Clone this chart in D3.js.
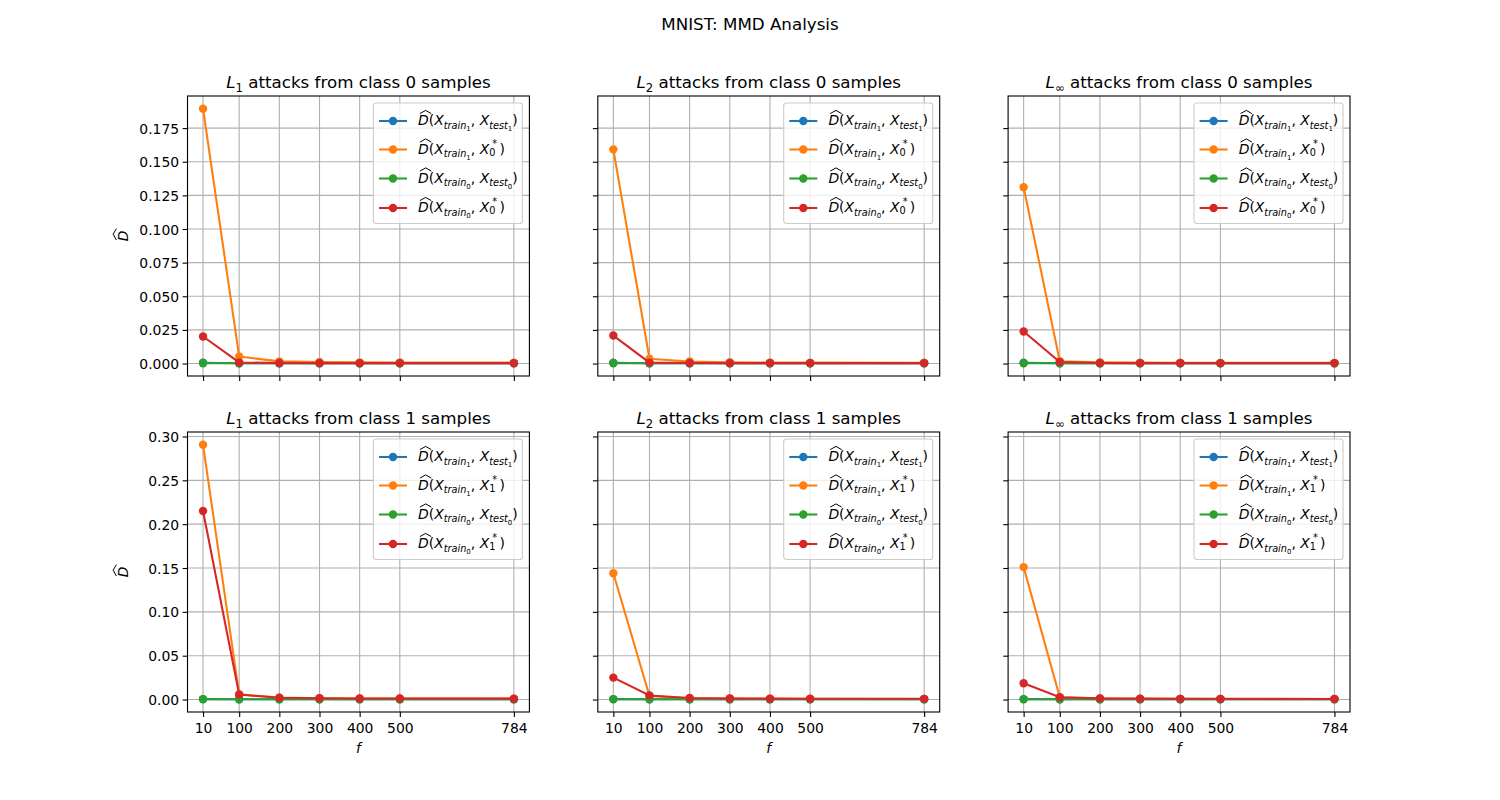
<!DOCTYPE html>
<html>
<head>
<meta charset="utf-8">
<script src="https://cdn.jsdelivr.net/npm/d3@7"></script>
<style>
  body { margin: 0; background: #fff; }
  svg text { font-family: "DejaVu Sans", sans-serif; fill: #000; }
</style>
</head>
<body>
<div id="chart"></div>
<script>
// x values (number of features f) and tick labels
const fValues = [10, 100, 200, 300, 400, 500, 784];
const normNames = ["1", "2", "\u221e"];
const classNames = ["0", "1"];
const seriesColors = ["#1f77b4", "#ff7f0e", "#2ca02c", "#d62728"];

// each panel: [D(train1,test1), D(train1,X*), D(train0,test0), D(train0,X*)]
const l1Class0 = [
    [0.0006, 0.0002, 0.0002, 0.0002, 0.0002, 0.0002, 0.0002],
    [0.1894, 0.0052, 0.0016, 0.0011, 0.0009, 0.0008, 0.0007],
    [0.0002, 0.0002, 0.0002, 0.0002, 0.0002, 0.0002, 0.0002],
    [0.0201, 0.0008, 0.0004, 0.0003, 0.0003, 0.0003, 0.0003]
];
const l2Class0 = [
    [0.0006, 0.0002, 0.0002, 0.0002, 0.0002, 0.0002, 0.0002],
    [0.1592, 0.0036, 0.0015, 0.0010, 0.0008, 0.0007, 0.0006],
    [0.0002, 0.0002, 0.0002, 0.0002, 0.0002, 0.0002, 0.0002],
    [0.0208, 0.0007, 0.0004, 0.0003, 0.0003, 0.0003, 0.0003]
];
const linfClass0 = [
    [0.0006, 0.0002, 0.0002, 0.0002, 0.0002, 0.0002, 0.0002],
    [0.1310, 0.0017, 0.0009, 0.0007, 0.0006, 0.0005, 0.0005],
    [0.0002, 0.0002, 0.0002, 0.0002, 0.0002, 0.0002, 0.0002],
    [0.0238, 0.0012, 0.0004, 0.0003, 0.0003, 0.0003, 0.0003]
];
const l1Class1 = [
    [0.0005, 0.0003, 0.0003, 0.0003, 0.0003, 0.0003, 0.0003],
    [0.2906, 0.0060, 0.0022, 0.0015, 0.0012, 0.0011, 0.0010],
    [0.0003, 0.0003, 0.0003, 0.0003, 0.0003, 0.0003, 0.0003],
    [0.2150, 0.0056, 0.0020, 0.0014, 0.0012, 0.0011, 0.0010]
];
const l2Class1 = [
    [0.0005, 0.0003, 0.0003, 0.0003, 0.0003, 0.0003, 0.0003],
    [0.1440, 0.0040, 0.0015, 0.0011, 0.0009, 0.0008, 0.0007],
    [0.0003, 0.0003, 0.0003, 0.0003, 0.0003, 0.0003, 0.0003],
    [0.0250, 0.0046, 0.0017, 0.0012, 0.0010, 0.0009, 0.0008]
];
const linfClass1 = [
    [0.0005, 0.0003, 0.0003, 0.0003, 0.0003, 0.0003, 0.0003],
    [0.1510, 0.0025, 0.0012, 0.0009, 0.0008, 0.0007, 0.0007],
    [0.0003, 0.0003, 0.0003, 0.0003, 0.0003, 0.0003, 0.0003],
    [0.0185, 0.0027, 0.0013, 0.0010, 0.0008, 0.0008, 0.0007]
];
const rowData = [[l1Class0, l2Class0, linfClass0], [l1Class1, l2Class1, linfClass1]];
const yTicksRow = [
    [0, 0.025, 0.05, 0.075, 0.1, 0.125, 0.15, 0.175],
    [0, 0.05, 0.1, 0.15, 0.2, 0.25, 0.3]
];
const yFormats = [".3f", ".2f"];

// figure layout (matplotlib 15x8 default subplot params)
const W = 1500, H = 800;
const axLeft = [187.5, 597.8, 1008.1], axW = 341.9;
const axTop = [96, 432], axH = 280;
const tickFont = 13.9, titleFont = 16.7;

const svg = d3.select("#chart").append("svg")
    .attr("width", W).attr("height", H);

// suptitle
svg.append("text")
    .attr("x", W / 2).attr("y", 30)
    .attr("text-anchor", "middle")
    .style("font-size", titleFont + "px")
    .text("MNIST: MMD Analysis");

// mathtext-ish label from parts: {t, it, lv} lv: 0 normal, 1 sub, 2 subsub, "sup"
const lvOff = {0: 0, 1: 3.5, 2: 6, sup: -7.2};
const lvScale = {0: 1, 1: 0.7, 2: 0.5, sup: 0.7};
function mathText(g, x, y, size, parts, anchor) {
    const txt = g.append("text").attr("x", x).attr("y", y)
        .attr("text-anchor", anchor || "start")
        .style("font-size", size + "px");
    let cur = 0, lastSub = 0, pendingDx = 0;
    parts.forEach(p => {
        let off = lvOff[p.lv] * size / 13.9;
        if (p.raised) off = 1.8;   // subscript lifted when a superscript sits on it
        const ts = txt.append("tspan")
            .attr("dy", off - cur)
            .style("font-size", (size * lvScale[p.lv]) + "px")
            .style("font-style", p.it ? "italic" : "normal")
            .text(p.t);
        cur = off;
        if (p.lv === "sup" && p.stack) {
            ts.attr("dx", -lastSub + 3.2);
            pendingDx = 2.2;
        } else {
            if (pendingDx) { ts.attr("dx", pendingDx); pendingDx = 0; }
            lastSub = ts.node().getComputedTextLength();
        }
    });
    return txt;
}

// wide hat above an italic D starting at (x, baseline y)
function hatPath(g, x, y) {
    g.append("path")
        .attr("d", `M${x + 1.8},${y - 11.6} L${x + 7.6},${y - 14.8} L${x + 13.2},${y - 11.6}`)
        .attr("fill", "none").attr("stroke", "#000").attr("stroke-width", 1);
}

function legendParts(i, cls) {
    const a = i < 2 ? "1" : "0";
    const head = [
        {t: "D", it: true, lv: 0}, {t: "(", lv: 0}, {t: "X", it: true, lv: 0},
        {t: "train", it: true, lv: 1}, {t: a, lv: 2}, {t: ", ", lv: 0}, {t: "X", it: true, lv: 0}
    ];
    const tail = (i % 2 === 0)
        ? [{t: "test", it: true, lv: 1}, {t: a, lv: 2}, {t: ")", lv: 0}]
        : [{t: cls, lv: 1, raised: true}, {t: "*", lv: "sup", stack: true}, {t: ")", lv: 0}];
    return head.concat(tail);
}

const x = d3.scaleLinear()
    .domain([10 - 0.05 * 774, 784 + 0.05 * 774])
    .range([0, axW]);

rowData.forEach((row, r) => {
    // shared y per row, 5% margins like matplotlib
    const all = row.flat(2);
    const [lo, hi] = d3.extent(all);
    const pad = (hi - lo) * 0.05;
    const y = d3.scaleLinear().domain([lo - pad, hi + pad]).range([axH, 0]);
    const yTicks = yTicksRow[r];

    row.forEach((panel, c) => {
        const g = svg.append("g")
            .attr("transform", `translate(${axLeft[c]},${axTop[r]})`);

        // grid
        g.append("g").selectAll("line").data(fValues).join("line")
            .attr("x1", d => x(d)).attr("x2", d => x(d))
            .attr("y1", 0).attr("y2", axH)
            .attr("stroke", "#b0b0b0").attr("stroke-width", 1.1);
        g.append("g").selectAll("line").data(yTicks).join("line")
            .attr("y1", d => y(d)).attr("y2", d => y(d))
            .attr("x1", 0).attr("x2", axW)
            .attr("stroke", "#b0b0b0").attr("stroke-width", 1.1);

        // axes
        const xAxis = g.append("g")
            .attr("transform", `translate(0,${axH})`)
            .call(d3.axisBottom(x).tickValues(fValues).tickSize(4.9).tickPadding(3.5)
                .tickFormat(r === 1 ? d3.format("d") : ""));
        xAxis.select(".domain").remove();
        xAxis.selectAll("line").attr("stroke-width", 1.1);
        xAxis.selectAll("text").attr("dy", 0).attr("y", 21)
            .style("font-size", tickFont + "px").style("font-family", "DejaVu Sans");

        const yAxis = g.append("g")
            .call(d3.axisLeft(y).tickValues(yTicks).tickSize(4.9).tickPadding(3.5)
                .tickFormat(c === 0 ? d3.format(yFormats[r]) : ""));
        yAxis.select(".domain").remove();
        yAxis.selectAll("line").attr("stroke-width", 1.1);
        yAxis.selectAll("text").attr("dy", "0.36em")
            .style("font-size", tickFont + "px").style("font-family", "DejaVu Sans");

        // series
        const line = d3.line().x((d, i) => x(fValues[i])).y(d => y(d));
        panel.forEach((vals, s) => {
            const sg = g.append("g");
            sg.append("path").datum(vals)
                .attr("d", line)
                .attr("fill", "none")
                .attr("stroke", seriesColors[s])
                .attr("stroke-width", 2.08);
            sg.selectAll("circle").data(vals).join("circle")
                .attr("cx", (d, i) => x(fValues[i]))
                .attr("cy", d => y(d))
                .attr("r", 4.2)
                .attr("fill", seriesColors[s]);
        });

        // spines
        g.append("rect")
            .attr("width", axW).attr("height", axH)
            .attr("fill", "none").attr("stroke", "#000").attr("stroke-width", 1.1);

        // title
        mathText(g, axW / 2, -8.5, titleFont, [
            {t: "L", it: true, lv: 0}, {t: normNames[c], lv: 1},
            {t: " attacks from class " + classNames[r] + " samples", lv: 0}
        ], "middle");

        // legend
        const lw = 149, lh = 120.5;
        const lg = g.append("g").attr("transform", `translate(${axW - 7 - lw},7)`);
        lg.append("rect")
            .attr("width", lw).attr("height", lh).attr("rx", 2.8)
            .attr("fill", "#fff").attr("fill-opacity", 0.8)
            .attr("stroke", "#cccccc").attr("stroke-width", 1.1);
        const rowY = [18, 46.5, 75.5, 105];
        seriesColors.forEach((col, i) => {
            const cy = rowY[i];
            lg.append("line")
                .attr("x1", 5.6).attr("x2", 33.6).attr("y1", cy).attr("y2", cy)
                .attr("stroke", col).attr("stroke-width", 2.08);
            lg.append("circle").attr("cx", 19.6).attr("cy", cy).attr("r", 4.2).attr("fill", col);
            mathText(lg, 44.7, cy + 4.2, tickFont, legendParts(i, classNames[r]));
            hatPath(lg, 44.7, cy + 4.2);
        });

        // x label on bottom row
        if (r === 1) {
            g.append("text")
                .attr("x", axW / 2).attr("y", axH + 41)
                .attr("text-anchor", "middle")
                .style("font-size", tickFont + "px").style("font-style", "italic")
                .text("f");
        }
    });

    // y label
    const yl = svg.append("g")
        .attr("transform", `translate(128,${axTop[r] + axH / 2}) rotate(-90)`);
    yl.append("text")
        .attr("x", 0).attr("y", 0)
        .attr("text-anchor", "middle")
        .style("font-size", tickFont + "px").style("font-style", "italic")
        .text("D");
    hatPath(yl, -5.8, 0);
});
</script>
</body>
</html>
